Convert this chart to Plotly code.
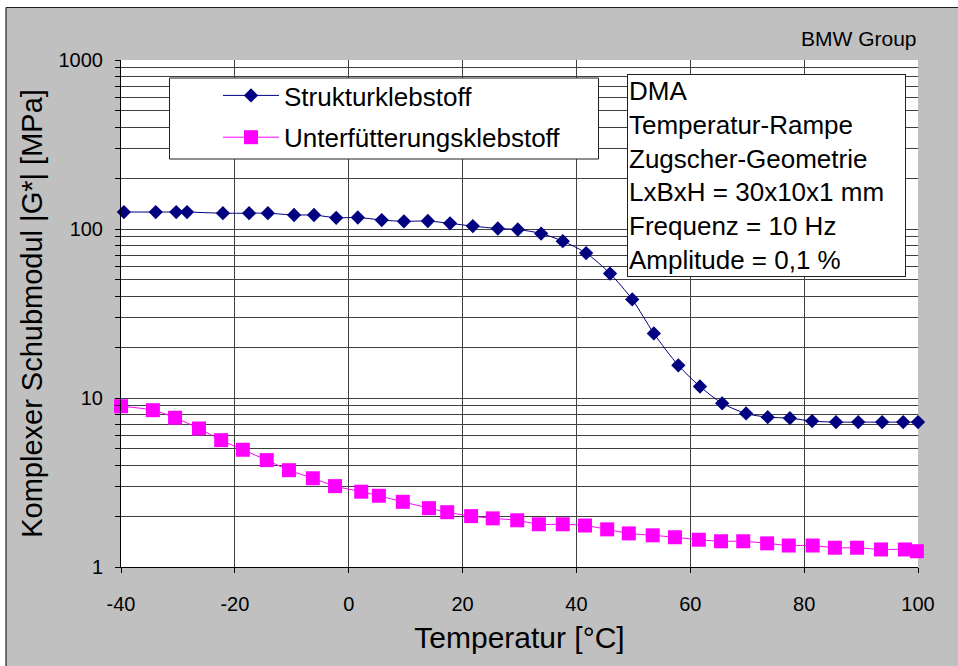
import plotly.graph_objects as go

# ---------------- data ----------------
temp_struktur = [-39.5, -33.9, -30.3, -28.4, -22.1, -17.5, -14.2, -9.6, -6.1, -2.2,
                 1.6, 5.8, 9.7, 13.9, 17.8, 21.8, 26.2, 29.7, 33.8, 37.6,
                 41.7, 45.9, 49.8, 53.6, 57.9, 61.7, 65.6, 69.8, 73.6, 77.5,
                 81.4, 85.6, 89.5, 93.7, 97.4, 100.0]
g_struktur = [126, 126, 126, 126, 124, 124, 124, 121, 121, 116.5,
              117, 113, 111, 111.5, 108, 104, 100.7, 99.3, 94, 84.7,
              72, 54.5, 38.3, 24.1, 15.6, 11.7, 9.3, 8.1, 7.7, 7.6,
              7.3, 7.2, 7.2, 7.2, 7.2, 7.2]

temp_unterf = [-40.0, -34.4, -30.5, -26.3, -22.4, -18.6, -14.4, -10.5, -6.3, -2.4,
               2.2, 5.3, 9.5, 14.1, 17.3, 21.5, 25.3, 29.6, 33.4, 37.6,
               41.5, 45.4, 49.2, 53.4, 57.3, 61.5, 65.4, 69.3, 73.5, 77.3,
               81.5, 85.4, 89.3, 93.5, 97.7, 99.8]
g_unterf = [8.94, 8.47, 7.64, 6.60, 5.63, 4.94, 4.29, 3.74, 3.35, 3.01,
            2.79, 2.64, 2.43, 2.23, 2.11, 2.00, 1.94, 1.89, 1.79, 1.79,
            1.76, 1.67, 1.58, 1.54, 1.50, 1.45, 1.42, 1.42, 1.38, 1.34,
            1.34, 1.30, 1.30, 1.27, 1.27, 1.24]

series_names = ["Strukturklebstoff", "Unterfütterungsklebstoff"]
x_tickvals = [-40, -20, 0, 20, 40, 60, 80, 100]
x_ticktext = ["-40", "-20", "0", "20", "40", "60", "80", "100"]
y_tickvals = [1, 10, 100, 1000]
y_ticktext = ["1", "10", "100", "1000"]
info_lines = ["DMA", "Temperatur-Rampe", "Zugscher-Geometrie",
              "LxBxH = 30x10x1 mm", "Frequenz = 10 Hz", "Amplitude = 0,1 %"]
x_title = "Temperatur [°C]"
y_title = "Komplexer Schubmodul |G*| [MPa]"
corner_text = "BMW Group"

# ---------------- layout geometry ----------------
W, H = 958, 666
ML, MR, MT, MB = 121, 40, 60, 99
PW, PH = W - ML - MR, H - MT - MB


def px(x):
    return (x - ML) / PW


def py(y):
    return 1 - (y - MT) / PH


FONT = "Liberation Sans, Arial, sans-serif"
GRID = "#404040"

fig = go.Figure()
fig.add_trace(go.Scatter(
    x=temp_struktur, y=g_struktur, name=series_names[0], mode="lines+markers",
    line=dict(color="#000080", width=1, shape="spline", smoothing=0.8),
    marker=dict(symbol="diamond", size=11, color="#000080", line=dict(width=0)),
    cliponaxis=False, legendgroup="a"))
fig.add_trace(go.Scatter(
    x=temp_unterf, y=g_unterf, name=series_names[1], mode="lines+markers",
    line=dict(color="#FF00FF", width=1, shape="spline", smoothing=0.8),
    marker=dict(symbol="square", size=14, color="#FF00FF", line=dict(width=0)),
    cliponaxis=False, legendgroup="b"))

shapes = [
    # white strip above and left of the grey chart area
    dict(type="rect", xref="paper", yref="paper", x0=px(-5), x1=px(W + 5), y0=py(7.5), y1=py(-5),
         fillcolor="white", line=dict(width=0), layer="below"),
    dict(type="rect", xref="paper", yref="paper", x0=px(-5), x1=px(6), y0=py(H + 5), y1=py(-5),
         fillcolor="white", line=dict(width=0), layer="below"),
    dict(type="line", xref="paper", yref="paper", x0=px(6), x1=px(W + 5), y0=py(7.5), y1=py(7.5),
         line=dict(color="#202020", width=1.2)),
    dict(type="line", xref="paper", yref="paper", x0=px(6), x1=px(6), y0=py(7.5), y1=py(H + 5),
         line=dict(color="#202020", width=1.2)),
    # legend frame
    dict(type="rect", xref="paper", yref="paper", x0=px(169.5), x1=px(598.5), y0=py(159), y1=py(78),
         fillcolor="white", line=dict(color="#202020", width=1), layer="above"),
]

annotations = [
    dict(text=corner_text, xref="paper", yref="paper", x=px(919), y=py(38), xanchor="right",
         yanchor="middle", showarrow=False, font=dict(family=FONT, size=21, color="black")),
    dict(text="<br>".join(info_lines), xref="paper", yref="paper", x=px(627), y=py(74),
         xanchor="left", yanchor="top", align="left", showarrow=False,
         width=275, height=199, valign="middle", borderpad=1,
         bgcolor="white", bordercolor="#202020", borderwidth=1,
         font=dict(family=FONT, size=26, color="black")),
]

fig.update_layout(
    width=W, height=H, margin=dict(l=ML, r=MR, t=MT, b=MB),
    paper_bgcolor="#C0C0C0", plot_bgcolor="white",
    font=dict(family=FONT, color="black"),
    showlegend=True,
    legend=dict(x=px(218), y=py(72), xanchor="left", yanchor="top",
                bgcolor="rgba(0,0,0,0)", borderwidth=0, traceorder="grouped",
                tracegroupgap=5, itemwidth=56,
                font=dict(family=FONT, size=26, color="black")),
    shapes=shapes, annotations=annotations,
    xaxis=dict(range=[-40, 100], tickmode="array", tickvals=x_tickvals, ticktext=x_ticktext,
               showgrid=True, gridcolor=GRID, gridwidth=1,
               showline=True, linecolor="black", linewidth=1, mirror=False,
               ticks="outside", ticklen=5, tickcolor="black", zeroline=False,
               ticklabelstandoff=14,
               tickfont=dict(family=FONT, size=20, color="black"),
               title=dict(text=x_title, standoff=12,
                          font=dict(family=FONT, size=30, color="black"))),
    yaxis=dict(type="log", range=[0, 3], tickmode="array", tickvals=y_tickvals,
               ticktext=y_ticktext,
               showgrid=True, gridcolor=GRID, gridwidth=1,
               showline=True, linecolor="black", linewidth=1,
               ticks="outside", ticklen=5, tickcolor="black", zeroline=False,
               ticklabelstandoff=8,
               minor=dict(dtick="D1", showgrid=True, gridcolor=GRID, gridwidth=1,
                          ticks="outside", ticklen=5, tickcolor="black"),
               tickfont=dict(family=FONT, size=20, color="black"),
               title=dict(text=y_title, standoff=7,
                          font=dict(family=FONT, size=29, color="black"))),
)

fig.write_html("out.html")
